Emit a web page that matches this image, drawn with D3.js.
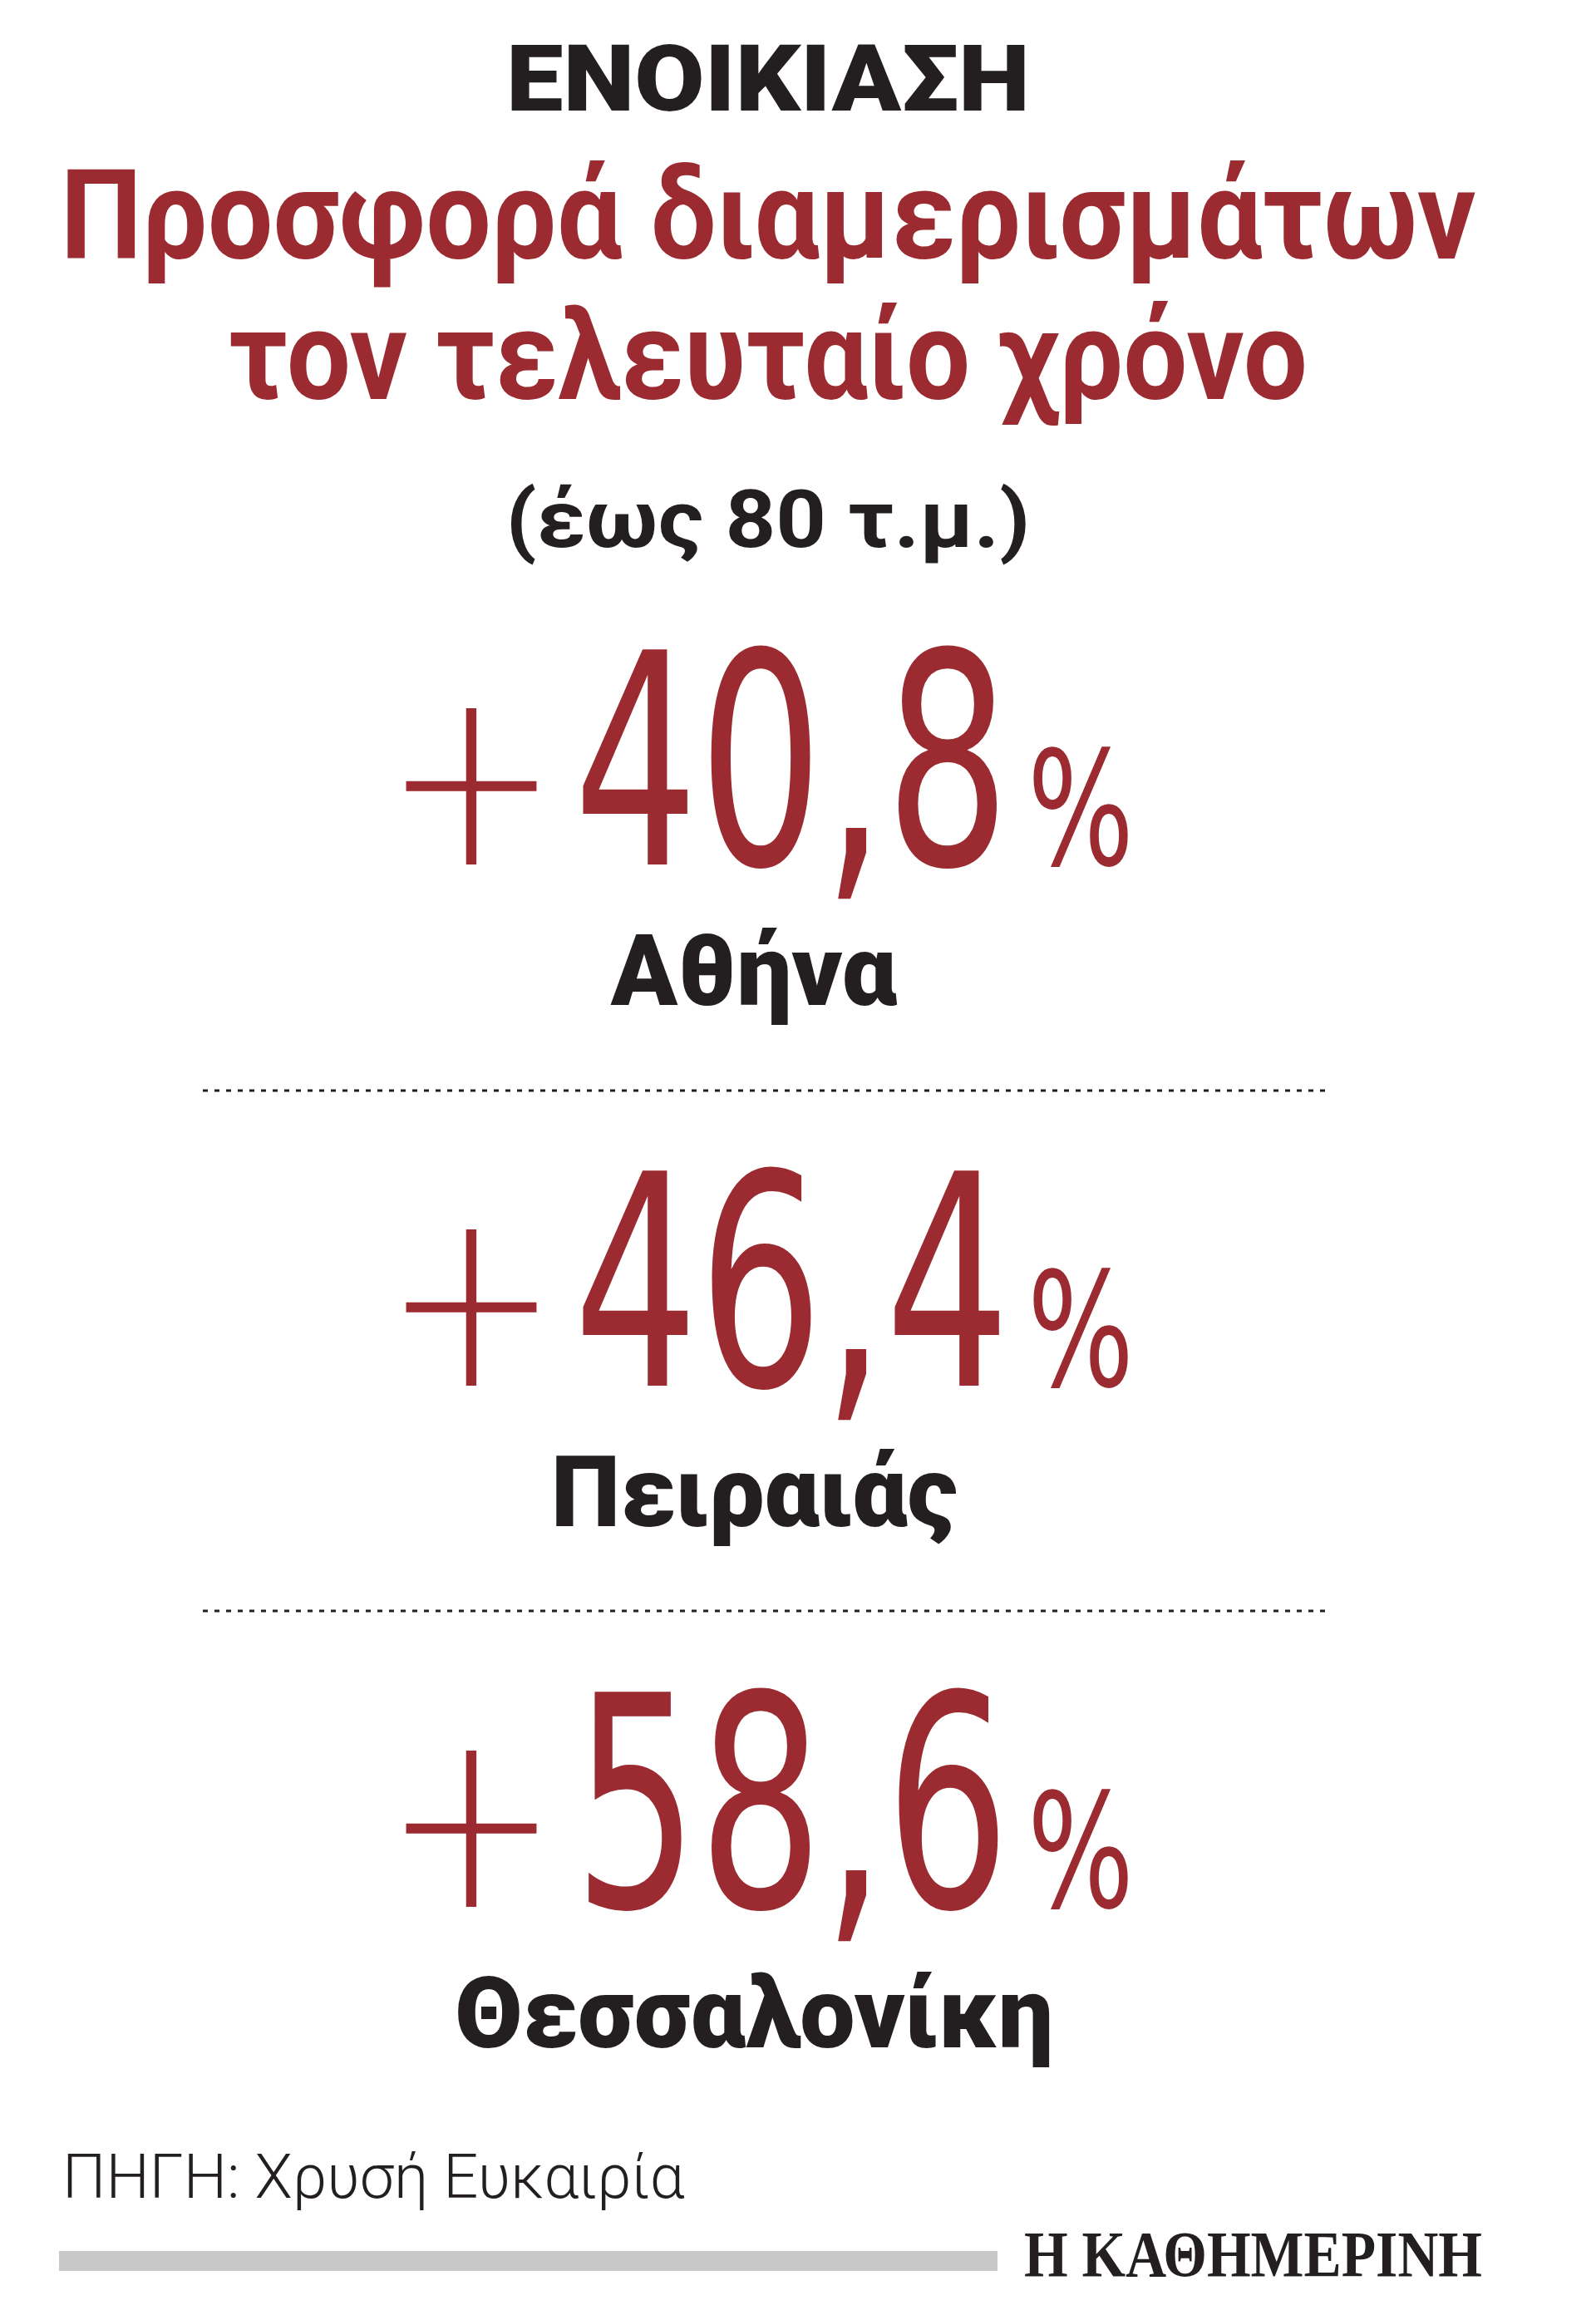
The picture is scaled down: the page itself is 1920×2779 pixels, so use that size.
<!DOCTYPE html>
<html>
<head>
  <meta charset="utf-8">
  <title>Ενοικίαση</title>
  <script src="https://d3js.org/d3.v7.min.js"></script>
  <style>
    body { margin: 0; background: #fff; }
    .dark { fill: #231f20; }
    .red { fill: #9b2b30; }
  </style>
</head>
<body>
  <script>
    var cities = ["Αθήνα", "Πειραιάς", "Θεσσαλονίκη"];
    var values = [40.8, 46.4, 58.6];
    var kicker = "ΕΝΟΙΚΙΑΣΗ";
    var titleLines = ["Προσφορά διαμερισμάτων", "τον τελευταίο χρόνο"];
    var subtitle = "(έως 80 τ.μ.)";
    var source = "ΠΗΓΗ: Χρυσή Ευκαιρία";
    var logo = "Η ΚΑΘΗΜΕΡΙΝΗ";

    var width = 1920, height = 2779;
    var svg = d3.select("body").append("svg")
        .attr("width", width)
        .attr("height", height);

    var fmt = v => d3.format(".1f")(v).replace(".", ",");

    svg.append("text").attr("class", "dark")
        .attr("x", 924).attr("y", 133)
        .attr("text-anchor", "middle")
        .attr("font-family", "Roboto").attr("font-weight", 900)
        .attr("font-size", 112)
        .attr("textLength", 630).attr("lengthAdjust", "spacingAndGlyphs")
        .text(kicker);

    svg.selectAll(".title").data(titleLines).enter().append("text")
        .attr("class", "red title")
        .attr("x", 924).attr("y", (d, i) => [311, 480][i])
        .attr("text-anchor", "middle")
        .attr("font-family", "Roboto").attr("font-weight", 700)
        .attr("font-size", 150)
        .attr("textLength", (d, i) => [1703, 1298][i]).attr("lengthAdjust", "spacingAndGlyphs")
        .text(d => d);

    svg.append("text").attr("class", "dark")
        .attr("x", 924).attr("y", 658)
        .attr("text-anchor", "middle")
        .attr("font-family", "Roboto").attr("font-weight", 700)
        .attr("font-size", 96)
        .attr("textLength", 631).attr("lengthAdjust", "spacingAndGlyphs")
        .text(subtitle);

    // row positions for each city block
    var y = d3.scalePoint().domain(cities).range([1040, 2294]);

    var rows = svg.selectAll(".row").data(cities).enter().append("g")
        .attr("class", "row")
        .attr("transform", d => "translate(0," + y(d) + ")");

    rows.append("text").attr("class", "red")
        .attr("x", 462).attr("y", 0)
        .attr("font-family", "DejaVu Sans").attr("font-weight", 200)
        .attr("font-size", 300)
        .attr("textLength", 210).attr("lengthAdjust", "spacingAndGlyphs")
        .text("+");

    rows.append("text").attr("class", "red")
        .attr("x", 690).attr("y", 0)
        .attr("font-family", "DejaVu Sans Condensed")
        .attr("font-size", 355)
        .attr("textLength", 525).attr("lengthAdjust", "spacingAndGlyphs")
        .text((d, i) => fmt(values[i]));

    rows.append("text").attr("class", "red")
        .attr("x", 1236).attr("y", 0)
        .attr("font-family", "DejaVu Sans Condensed").attr("font-weight", 300)
        .attr("font-size", 190)
        .attr("textLength", 128).attr("lengthAdjust", "spacingAndGlyphs")
        .text("%");

    rows.append("text").attr("class", "dark")
        .attr("x", 907).attr("y", 169)
        .attr("text-anchor", "middle")
        .attr("font-family", "Roboto").attr("font-weight", 900)
        .attr("font-size", 118)
        .text(d => d);

    // dotted separators between rows
    svg.selectAll(".sep").data([1312, 1938]).enter().append("line")
        .attr("x1", 244).attr("x2", 1600)
        .attr("y1", d => d).attr("y2", d => d)
        .attr("stroke", "#231f20").attr("stroke-width", 3)
        .attr("stroke-dasharray", "6,8");

    svg.append("text").attr("class", "dark")
        .attr("x", 75).attr("y", 2644)
        .attr("font-family", "Roboto").attr("font-weight", 300)
        .attr("font-size", 74)
        .text(source);

    svg.append("rect")
        .attr("x", 71).attr("y", 2708)
        .attr("width", 1129).attr("height", 24)
        .attr("fill", "#c8c8c8");

    svg.append("text").attr("class", "dark")
        .attr("x", 1232).attr("y", 2738)
        .attr("font-family", "Liberation Serif").attr("font-weight", 700)
        .attr("font-size", 78)
        .attr("textLength", 551).attr("lengthAdjust", "spacingAndGlyphs")
        .text(logo);
  </script>
</body>
</html>
